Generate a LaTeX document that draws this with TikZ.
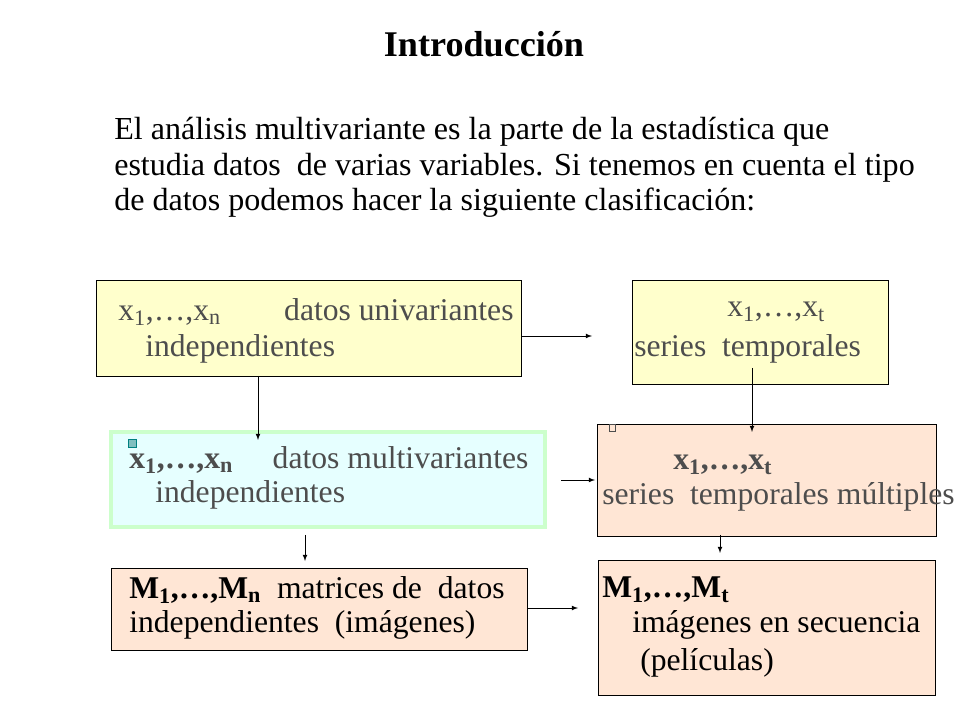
\documentclass[tikz,border=0pt]{standalone}
\usepackage{fontspec}
\setmainfont{Liberation Serif}
\definecolor{paleyellow}{HTML}{FFFFCC}
\definecolor{palecyan}{HTML}{E6FFFF}
\definecolor{palegreen}{HTML}{CCFFCC}
\definecolor{peach}{HTML}{FFE6D5}
\definecolor{boxtext}{HTML}{4D4D4D}
\newcommand{\sub}[1]{\textsubscript{#1}}
\tikzset{
  databox/.style={draw=black,line width=0.5pt},
  boxlabel/.style={anchor=west,inner sep=0pt,text=boxtext,font=\fontsize{22.5}{26}\selectfont},
  flow/.style={-latex,line width=0.5pt}
}
\begin{document}
\begin{tikzpicture}[x=0.025cm,y=-0.025cm]
  \useasboundingbox (0,0) rectangle (960,720);
  \node[font=\bfseries\fontsize{25.7}{30}\selectfont] (title) at (484,44) {Introducción};
  \node[anchor=north west,inner sep=0pt,align=left,font=\fontsize{22.8}{25.2}\selectfont] (intro) at (114,117)
    {El análisis multivariante es la parte de la estadística que\\
     estudia datos\ \ de varias variables. Si tenemos en cuenta el tipo\\
     de datos podemos hacer la siguiente clasificación:};
  % boxes
  \draw[databox,fill=paleyellow] (96,280) rectangle (521,376);
  \draw[databox,fill=paleyellow] (632,280) rectangle (888,384);
  \draw[draw=palegreen,line width=2.5pt,fill=palecyan] (111,432) rectangle (545,527);
  \draw[databox,fill=peach] (597,424) rectangle (936,536);
  \draw[databox,fill=peach] (111,568) rectangle (527,650);
  \draw[databox,fill=peach] (598,560) rectangle (935,695);
  \draw[fill=teal!50,draw=teal] (128,439) rectangle (136,447);
  \draw[draw=boxtext,line width=0.3pt] (609,424) rectangle (615,431);
  % texts
  \node[boxlabel] (uni) at (118,312) {x\sub{1},\dots,x\sub{n}\qquad datos univariantes};
  \node[boxlabel] (unib) at (145,349) {independientes};
  \node[boxlabel] (ser) at (727,312) {x\sub{1},\dots,x\sub{t}};
  \node[boxlabel] (serb) at (634,349) {series\ \ temporales};
  \node[boxlabel] (mul) at (129,460) {\bfseries x\sub{1},\dots,x\sub{n}\quad\ \mdseries datos multivariantes};
  \node[boxlabel] (mulb) at (155,495) {independientes};
  \node[boxlabel] (sm) at (673,465) {\bfseries x\sub{1},\dots,x\sub{t}};
  \node[boxlabel] (smb) at (602,497) {series\ \ temporales múltiples};
  \node[boxlabel,text=black] (mat) at (129,590) {\bfseries M\sub{1},\dots,M\sub{n}\ \ \mdseries matrices de\ \ datos};
  \node[boxlabel,text=black] (matb) at (129,625) {independientes\ \ (imágenes)};
  \node[boxlabel,text=black] (seq) at (602,590) {\bfseries M\sub{1},\dots,M\sub{t}};
  \node[boxlabel,text=black] (seqb) at (632,625) {imágenes en secuencia};
  \node[boxlabel,text=black] (seqc) at (640,663) {(películas)};
  % arrows
  \coordinate (a1) at (521,336); \coordinate (a2) at (592,336);
  \coordinate (b1) at (258,376); \coordinate (b2) at (258,440);
  \coordinate (c1) at (752,368); \coordinate (c2) at (752,432);
  \coordinate (d1) at (561,480); \coordinate (d2) at (595,480);
  \coordinate (e1) at (305,535); \coordinate (e2) at (305,561);
  \coordinate (f1) at (720,535); \coordinate (f2) at (720,553);
  \coordinate (g1) at (527,608); \coordinate (g2) at (578,608);
  \foreach \s/\t in {a1/a2,b1/b2,c1/c2,d1/d2,e1/e2,f1/f2,g1/g2}
    \draw[flow] (\s) -- (\t);
\end{tikzpicture}
\end{document}
